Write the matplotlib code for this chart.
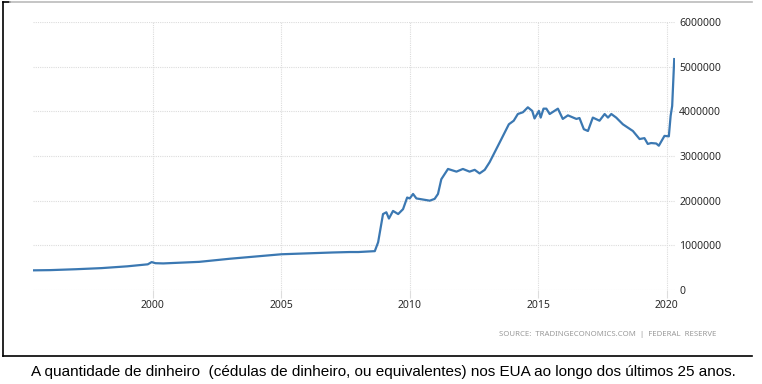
import matplotlib
matplotlib.use("Agg")
import matplotlib.pyplot as plt
from matplotlib.lines import Line2D

# base monetaria EUA (milhoes de USD)
anos = [1995.33, 1996.0, 1997.0, 1998.0, 1999.0, 1999.8, 1999.95, 2000.1, 2000.4, 2001.0,
        2001.8, 2003.0, 2004.0, 2005.0, 2006.0, 2007.0, 2007.67, 2008.0, 2008.64, 2008.77,
        2008.96, 2009.09, 2009.19, 2009.35, 2009.55, 2009.74, 2009.90, 2010.0, 2010.13, 2010.26,
        2010.78, 2010.97, 2011.10, 2011.23, 2011.49, 2011.82, 2012.07, 2012.33, 2012.53, 2012.72,
        2012.92, 2013.11, 2013.50, 2013.86, 2014.05, 2014.21, 2014.41, 2014.60, 2014.77, 2014.86,
        2015.03, 2015.10, 2015.21, 2015.32, 2015.45, 2015.77, 2015.96, 2016.16, 2016.49, 2016.61,
        2016.78, 2016.94, 2017.13, 2017.39, 2017.59, 2017.72, 2017.85, 2018.04, 2018.30, 2018.69,
        2018.95, 2019.14, 2019.27, 2019.40, 2019.60, 2019.70, 2019.92, 2020.09, 2020.16, 2020.22,
        2020.30]
valores = [440000, 445000, 465000, 490000, 530000, 575000, 625000, 600000, 595000, 610000,
           630000, 700000, 750000, 800000, 820000, 840000, 850000, 850000, 870000, 1070000,
           1700000, 1740000, 1600000, 1770000, 1700000, 1810000, 2070000, 2050000, 2150000, 2050000,
           2000000, 2040000, 2150000, 2480000, 2710000, 2650000, 2710000, 2650000, 2690000, 2610000,
           2690000, 2860000, 3300000, 3710000, 3790000, 3940000, 3980000, 4090000, 4010000, 3840000,
           4010000, 3860000, 4060000, 4060000, 3940000, 4060000, 3830000, 3910000, 3830000, 3850000,
           3600000, 3560000, 3860000, 3790000, 3940000, 3860000, 3940000, 3860000, 3710000, 3560000,
           3380000, 3400000, 3270000, 3290000, 3280000, 3230000, 3450000, 3440000, 3900000, 4120000,
           5170000]

anos_ticks = [2000, 2005, 2010, 2015, 2020]
y_ticks = [0, 1000000, 2000000, 3000000, 4000000, 5000000, 6000000]

fonte = "SOURCE:  TRADINGECONOMICS.COM  |  FEDERAL  RESERVE"
legenda = "A quantidade de dinheiro  (cédulas de dinheiro, ou equivalentes) nos EUA ao longo dos últimos 25 anos."

plt.rcParams['font.family'] = ['Noto Sans', 'DejaVu Sans']

fig = plt.figure(figsize=(7.62, 3.84), dpi=100)
ax = fig.add_axes([33 / 762, 1 - 290 / 384, 642 / 762, 268 / 384])

ax.plot(anos, valores, color='#3b78b2', linewidth=1.6, solid_joinstyle='round')

ax.set_xlim(1995.33, 2020.33)
ax.set_ylim(0, 6000000)
ax.set_xticks(anos_ticks)
ax.set_yticks(y_ticks)
ax.set_yticklabels([str(v) for v in y_ticks])
ax.yaxis.tick_right()
ax.tick_params(axis='y', length=0, pad=3, labelsize=7.5, labelcolor='#2a2a2a')
ax.tick_params(axis='x', length=6, color='#dddddd', pad=1, labelsize=7.5, labelcolor='#2a2a2a')
ax.grid(True, color='#dcdcdc', linestyle=(0, (1, 1)), linewidth=0.8)
for s in ax.spines.values():
    s.set_visible(False)

fig.text(716 / 762, 1 - 335 / 384, fonte, ha='right', va='center', fontsize=5.6,
         color='#9a9a9a')

# moldura da imagem
fig.add_artist(Line2D([3 / 762, 3 / 762], [1 - 2 / 384, 1 - 356 / 384], color='black', linewidth=1.2))
fig.add_artist(Line2D([3 / 762, 752 / 762], [1 - 356 / 384, 1 - 356 / 384], color='black', linewidth=1.2))
fig.add_artist(Line2D([3 / 762, 10 / 762], [1 - 2 / 384, 1 - 2 / 384], color='black', linewidth=1.2))
fig.add_artist(Line2D([10 / 762, 752 / 762], [1 - 2 / 384, 1 - 2 / 384], color='#bbbbbb', linewidth=1.2))

fig.text(383 / 762, 1 - 372 / 384, legenda, ha='center', va='center', fontsize=11,
         family=['Liberation Sans Narrow', 'Liberation Sans'], color='black')

fig.savefig('out.png', dpi=100)
